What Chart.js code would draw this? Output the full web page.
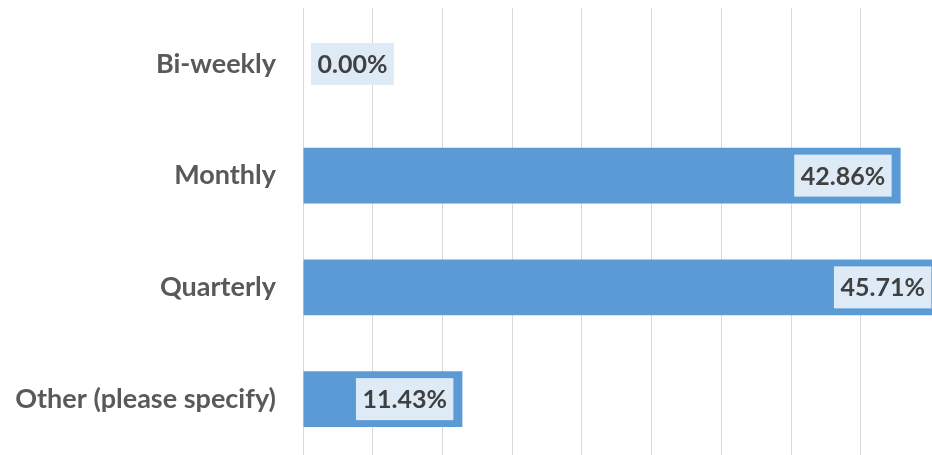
<!DOCTYPE html>
<html>
<head>
<meta charset="utf-8">
<script src="https://cdn.jsdelivr.net/npm/chart.js@4"></script>
<style>
  body { margin: 0; background: #fff; }
  #freqChart { display: block; }
</style>
</head>
<body>
<canvas id="freqChart" width="932" height="455"></canvas>
<script>
// Chart data
const categories = ["Bi-weekly", "Monthly", "Quarterly", "Other (please specify)"];
const percentages = [0.0, 42.86, 45.71, 11.43];
const gridStep = 5;

// Draw value labels in a light box at the end of each bar
const valueLabels = {
  id: "valueLabels",
  afterDatasetsDraw(chart) {
    const ctx = chart.ctx;
    const xScale = chart.scales.x;
    const base = xScale.getPixelForValue(0);
    const meta = chart.getDatasetMeta(0);
    ctx.save();
    ctx.font = "bold 25px Lato";
    ctx.textBaseline = "middle";
    ctx.textAlign = "left";
    meta.data.forEach((bar, i) => {
      const text = percentages[i].toFixed(2) + "%";
      const w = ctx.measureText(text).width + 13;
      const h = 42;
      const end = xScale.getPixelForValue(percentages[i]);
      const left = Math.max(end - 9 - w, base + 8);
      ctx.fillStyle = "#deebf7";
      ctx.fillRect(left, bar.y - h / 2, w, h);
      ctx.fillStyle = "#404040";
      ctx.fillText(text, left + 6.5, bar.y + 1);
    });
    ctx.restore();
  },
};

const ctx = document.getElementById("freqChart").getContext("2d");
new Chart(ctx, {
  type: "bar",
  data: {
    labels: categories,
    datasets: [
      {
        data: percentages,
        backgroundColor: "#5b9bd5",
        borderWidth: 0,
        barPercentage: 1,
        categoryPercentage: 0.5,
      },
    ],
  },
  options: {
    indexAxis: "y",
    responsive: false,
    animation: false,
    layout: { padding: { top: 8, right: 0, bottom: 0, left: 0 } },
    plugins: {
      legend: { display: false },
      tooltip: { enabled: false },
    },
    scales: {
      x: {
        min: 0,
        max: 45.11,
        afterFit: (scale) => {
          scale.height = 0;
          scale.paddingLeft = 0;
          scale.paddingRight = 0;
        },
        ticks: { display: false, stepSize: gridStep },
        grid: { color: "#d9d9d9", lineWidth: 1, drawTicks: false },
        border: { display: false },
      },
      y: {
        afterFit: (scale) => {
          scale.width = 303;
          scale.paddingTop = 0;
          scale.paddingBottom = 0;
        },
        ticks: {
          color: "#595959",
          font: { family: "Lato", size: 27, weight: "bold" },
          padding: 27,
        },
        grid: { display: false, drawTicks: false },
        border: { display: false },
      },
    },
  },
  plugins: [valueLabels],
});
</script>
</body>
</html>
